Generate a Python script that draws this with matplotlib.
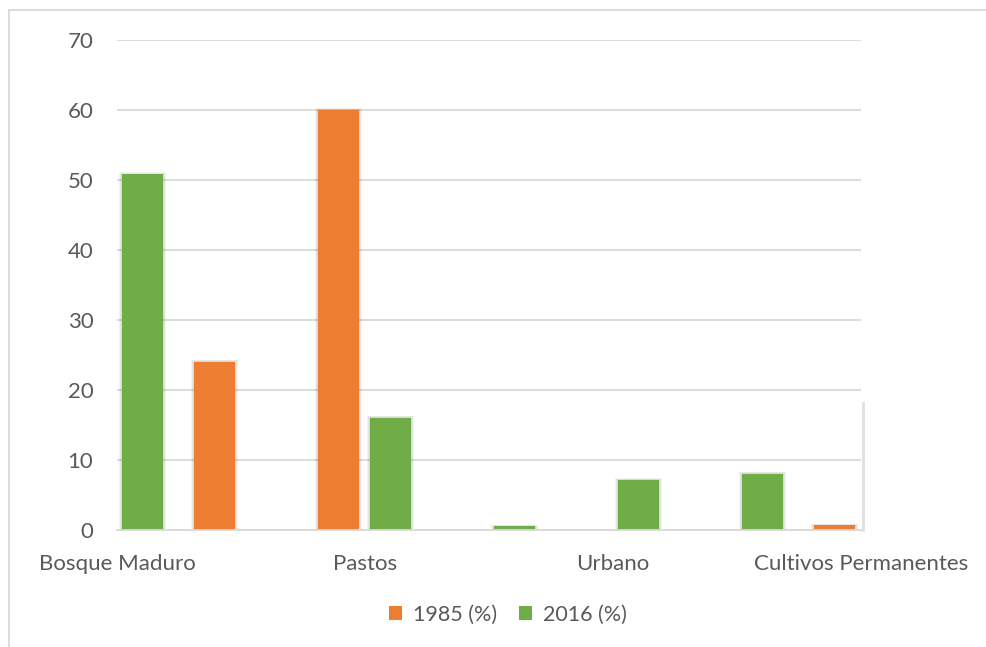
import matplotlib
matplotlib.use('Agg')
import matplotlib.pyplot as plt
from matplotlib.lines import Line2D
from matplotlib.patches import Patch
import numpy as np

# ---- data ----
tick_labels = ['Bosque Maduro', 'Pastos', 'Urbano', 'Cultivos Permanentes']
series_names = ['1985 (%)', '2016 (%)']
values_1985 = [24, 60, 0, 0, 0, 0.6]
values_2016 = [50.8, 0, 16, 0.45, 7.1, 8.0]
y_ticks = [0, 10, 20, 30, 40, 50, 60, 70]

ORANGE = '#ED7D31'
GREEN = '#70AD47'
TEXT = '#595959'
GRID = '#D9D9D9'

W, H = 986, 647
fig = plt.figure(figsize=(W / 100, H / 100), dpi=100)
plt.rcParams['font.family'] = ['Lato', 'DejaVu Sans']

ax = fig.add_axes([117 / W, 1 - 529.5 / H, (861 - 117) / W, (529.5 - 40) / H])

n = len(values_2016)
slots = np.arange(n)
bw = 0.33
off_green = 0.206
off_orange = 0.786
px = 1 / 124.0  # one pixel in slot units
pyu = 70 / 489.5  # one pixel in value units


def draw(xs, vals, color):
    for x, v in zip(xs, vals):
        if v <= 0:
            continue
        for k in (3, 2, 1):
            ax.bar(x, v + k * pyu * 0.6, width=bw + 2 * k * px, color='black',
                   alpha=0.05, linewidth=0, zorder=2)
        ax.bar(x, v, width=bw, color=color, linewidth=0, zorder=3)


draw(slots + off_orange, values_1985, ORANGE)
draw(slots + off_green, values_2016, GREEN)

ax.set_xlim(0, n)
ax.set_ylim(0, 70)
ax.set_yticks(y_ticks)
ax.set_xticks(np.arange(0, n + 1, 2))
ax.set_xticklabels(tick_labels)
ax.tick_params(axis='both', length=0, labelsize=16, colors=TEXT)
ax.tick_params(axis='y', pad=17)
ax.tick_params(axis='x', pad=17.5)
for lab in ax.get_xticklabels() + ax.get_yticklabels():
    lab.set_color(TEXT)
ax.grid(axis='y', color=GRID, linewidth=1.3, zorder=0)
ax.set_axisbelow(True)
for s in ['top', 'right', 'left']:
    ax.spines[s].set_visible(False)
ax.spines['bottom'].set_color(GRID)
ax.spines['bottom'].set_linewidth(1.3)
ax.spines['bottom'].set_zorder(4)

handles = [Patch(facecolor=ORANGE, edgecolor='none'), Patch(facecolor=GREEN, edgecolor='none')]
leg = fig.legend(handles, series_names, loc='center', bbox_to_anchor=(508 / W, 1 - 615 / H),
                 ncol=2, frameon=False, fontsize=15.5, handlelength=0.62, handleheight=0.62,
                 handletextpad=0.5, columnspacing=1.0, labelcolor=TEXT)

# chart frame (left and top edges visible in the reference)
fig.add_artist(Line2D([9 / W, 9 / W], [0, 1 - 10 / H], color=GRID, linewidth=1.3))
fig.add_artist(Line2D([9 / W, 1], [1 - 10 / H, 1 - 10 / H], color=GRID, linewidth=1.3))
# faint shadow edge at right of the plot area
fig.add_artist(Line2D([863 / W, 863 / W], [1 - 530 / H, 1 - 403 / H], color='#E0E0E0', linewidth=2))

fig.savefig('out.png', dpi=100)
